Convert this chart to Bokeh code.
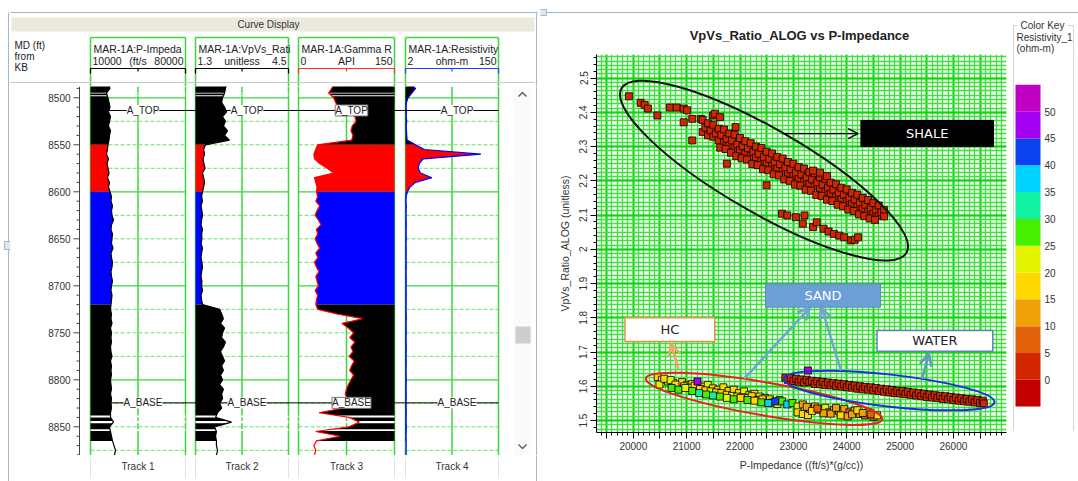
from bokeh.plotting import figure
from bokeh.models import (Range1d, SingleIntervalTicker, ColumnDataSource, Label, Arrow,
                          OpenHead, BoxAnnotation, LinearColorMapper, CustomJSTickFormatter)
from bokeh.layouts import row, column
from bokeh.embed import file_html
from bokeh.resources import INLINE
from bokeh.core.properties import value

FONT = "Liberation Sans"
BOX_FONT = "DejaVu Sans"
BORDER = "#a3b8cc"
GREEN = "#3ad83a"
LGREEN = "#66e466"

# ---------------------------------------------------------------- well log data
depth_ft = list(range(8485, 8881, 5))   # sampling depths (80 samples)

p_impedance = [
    23260, 24370, 21790, 22890, 23630, 24370, 23260, 24740, 24000, 23260,
    24740, 24000, 23630, 22890, 22530, 21790, 23260, 22160, 22890, 23630,
    22530, 24000, 23260, 24370, 25470, 25100, 26210, 25470, 25840, 26950,
    25470, 25100, 26210, 25840, 25470, 26580, 25100, 25470, 26210, 25840,
    25100, 25470, 26210, 25470, 25100, 25840, 25470, 25100, 24740, 25470,
    25100, 25840, 24740, 25470, 25100, 25470, 24740, 25100, 25840, 24740,
    25470, 25100, 25470, 24740, 25100, 25470, 24740, 25470, 25100, 25470,
    24740, 24740, 26950, 24000, 24740, 25470, 26210, 27310, 28420, 27680]

vpvs_ratio = [
    2.37, 2.33, 2.30, 2.23, 2.20, 2.30, 2.37, 2.23, 2.33, 2.26,
    2.40, 2.30, 2.47, 1.64, 1.58, 1.61, 1.56, 1.59, 1.63, 1.54,
    1.58, 1.61, 1.58, 1.54, 1.51, 1.54, 1.49, 1.52, 1.54, 1.51,
    1.49, 1.54, 1.51, 1.52, 1.49, 1.54, 1.51, 1.49, 1.52, 1.54,
    1.51, 1.49, 1.52, 1.51, 1.54, 1.49, 1.51, 1.54, 2.13, 2.20,
    2.26, 2.16, 2.30, 2.23, 2.20, 2.33, 2.26, 2.16, 2.23, 2.30,
    2.20, 2.26, 2.16, 2.23, 2.13, 2.26, 2.20, 2.23, 2.13, 2.20,
    2.06, 1.99, 2.54, 1.95, 2.02, 1.99, 2.02, 2.02, 2.06, 2.02]

gamma_ray = [
    55, 52, 47, 55, 58, 62, 75, 88, 90, 84,
    82, 85, 83, 30, 27, 24, 25, 33, 45, 55,
    25, 27, 29, 28, 30, 27, 33, 29, 26, 31,
    35, 28, 30, 26, 29, 33, 27, 30, 25, 28,
    32, 27, 29, 31, 26, 30, 28, 27, 30, 60,
    100, 68, 78, 86, 80, 88, 82, 85, 79, 87,
    83, 80, 86, 82, 78, 75, 73, 76, 74, 70,
    32, 79, 95, 79, 27, 65, 28, 24, 27, 25]

resistivity = [
    10, 18, 12, 6, 3.5, 3, 3.5, 3, 4, 3,
    3.5, 4, 4.5, 18, 32, 122, 30, 24, 22, 26,
    44, 18, 9, 5, 3, 2.8, 3.2, 3, 2.8, 3,
    3.3, 2.9, 3, 3.2, 2.8, 3, 3.1, 2.9, 3, 3.2,
    2.8, 3, 3.1, 3, 2.9, 3.2, 3, 3, 2.8, 3,
    3.2, 2.9, 3, 3.1, 2.8, 3, 3.2, 3, 2.9, 3.1,
    3, 2.8, 3, 3.2, 3, 2.9, 3.1, 3, 2.8, 3,
    3.1, 3, 2.9, 3.2, 3, 2.8, 3, 3.1, 2.9, 3]

zone_tops = [8485, 8550, 8600, 8720]
zone_bases = [8550, 8600, 8720, 8865]
zone_colors = ["#000000", "#ff0000", "#0000ff", "#000000"]
gap_depths = [8495.0, 8497.8, 8839.0, 8845.0, 8853.5]
gap_sizes = [0.9, 0.9, 2.0, 2.5, 2.0]

marker_names = ["A_TOP", "A_BASE"]
marker_depths = [8513.5, 8824.5]

track_titles = ["MAR-1A:P-Impeda", "MAR-1A:VpVs_Rati", "MAR-1A:Gamma R", "MAR-1A:Resistivity"]
track_units = ["(ft/s", "unitless", "API", "ohm-m"]
track_min = [10000, 1.3, 0, 2]
track_max = [80000, 4.5, 150, 150]
track_min_labels = ["10000", "1.3", "0", "2"]
track_max_labels = ["80000", "4.5", "150", "150"]
track_names = ["Track 1", "Track 2", "Track 3", "Track 4"]
track_curves = [p_impedance, vpvs_ratio, gamma_ray, resistivity]
track_curve_colors = ["#000000", "#000000", "#ff0000", "#0000ff"]
track_scale_colors = ["#000000", "#000000", "#ff3030", "#2040ff"]

depth_major = [8500, 8600, 8700, 8800]
depth_minor = [8525, 8550, 8575, 8625, 8650, 8675, 8725, 8750, 8775, 8825, 8850, 8875]
depth_tick_labels = [8500, 8550, 8600, 8650, 8700, 8750, 8800, 8850]
depth_minor_ticks = [d for d in range(8490, 8881, 10) if d % 50 != 0]

# ---------------------------------------------------------------- crossplot data
shale_xy = [
    (19917, 2.447), (20137, 2.428), (20212, 2.422), (20274, 2.411), (20451, 2.391),
    (20684, 2.414), (20814, 2.414), (20944, 2.411), (21008, 2.406), (20944, 2.371),
    (21105, 2.381), (21267, 2.381), (21494, 2.391), (21527, 2.396), (21624, 2.386),
    (21105, 2.318), (21916, 2.357), (21754, 2.250), (22498, 2.187),
    (21300, 2.378), (21300, 2.343), (21350, 2.356),
    (21400, 2.368), (21400, 2.333), (21450, 2.347),
    (21500, 2.364), (21500, 2.329), (21550, 2.338),
    (21600, 2.352), (21600, 2.318), (21650, 2.334),
    (21700, 2.350), (21700, 2.312), (21750, 2.322),
    (21800, 2.338), (21800, 2.303), (21850, 2.318),
    (21900, 2.335), (21900, 2.296), (21950, 2.306),
    (22000, 2.325), (22000, 2.290), (22050, 2.301),
    (22100, 2.316), (22100, 2.280), (22150, 2.295),
    (22200, 2.310), (22200, 2.272), (22250, 2.284),
    (22300, 2.300), (22300, 2.268), (22350, 2.279),
    (22400, 2.296), (22400, 2.258), (22450, 2.270),
    (22500, 2.285), (22500, 2.250), (22550, 2.264),
    (22600, 2.280), (22600, 2.244), (22650, 2.254),
    (22700, 2.270), (22700, 2.236), (22750, 2.249),
    (22800, 2.265), (22800, 2.228), (22850, 2.239),
    (22900, 2.255), (22900, 2.220), (22950, 2.233),
    (23000, 2.250), (23000, 2.214), (23050, 2.224),
    (23100, 2.240), (23100, 2.205), (23150, 2.219),
    (23200, 2.236), (23200, 2.198), (23250, 2.210),
    (23300, 2.225), (23300, 2.190), (23350, 2.204),
    (23400, 2.222), (23400, 2.184), (23450, 2.195),
    (23500, 2.210), (23500, 2.176), (23550, 2.189),
    (23600, 2.206), (23600, 2.168), (23650, 2.180),
    (23700, 2.195), (23700, 2.162), (23750, 2.174),
    (23800, 2.190), (23800, 2.154), (23850, 2.165),
    (23900, 2.180), (23900, 2.146), (23950, 2.159),
    (24000, 2.175), (24000, 2.140), (24050, 2.150),
    (24100, 2.165), (24100, 2.132), (24150, 2.145),
    (24200, 2.160), (24200, 2.125), (24250, 2.136),
    (24300, 2.150), (24300, 2.118), (24350, 2.130),
    (24400, 2.144), (24400, 2.110), (24450, 2.121),
    (24500, 2.135), (24500, 2.104), (24550, 2.115),
    (24600, 2.128), (24600, 2.098), (24650, 2.108),
    (24700, 2.115), (24700, 2.096),
    (21630, 2.297), (21730, 2.293), (21830, 2.282), (21930, 2.272), (22030, 2.266),
    (22130, 2.262), (22230, 2.249), (22330, 2.246), (22430, 2.234), (22530, 2.231),
    (22630, 2.219), (22730, 2.216), (22830, 2.204), (22930, 2.200), (23030, 2.189),
    (23130, 2.186), (23230, 2.174), (23330, 2.171), (23430, 2.159), (23530, 2.156),
    (23630, 2.145), (23730, 2.141), (23830, 2.130), (23930, 2.126), (24030, 2.116),
    (24130, 2.112), (24230, 2.102), (24330, 2.097), (24430, 2.090), (24530, 2.086),
    (23370, 2.230), (23500, 2.224), (23630, 2.214),
    (22788, 2.104), (22886, 2.099), (23048, 2.094), (23209, 2.099), (23177, 2.075),
    (23371, 2.065), (23437, 2.079), (23566, 2.060), (23660, 2.052), (23760, 2.045),
    (23860, 2.040), (23954, 2.035), (24083, 2.026), (24150, 2.028), (24213, 2.035)]
shale_resistivity = 2.0

water_xy = [
    (22850, 1.625), (22900, 1.618), (22950, 1.624), (23000, 1.615), (23050, 1.622),
    (23100, 1.613), (23150, 1.620), (23200, 1.611), (23250, 1.619), (23300, 1.612),
    (23350, 1.616), (23400, 1.607), (23450, 1.615), (23500, 1.606), (23550, 1.613),
    (23600, 1.604), (23650, 1.611), (23700, 1.603), (23750, 1.609), (23800, 1.601),
    (23850, 1.608), (23900, 1.599), (23950, 1.606), (24000, 1.597), (24050, 1.604),
    (24100, 1.596), (24150, 1.602), (24200, 1.593), (24250, 1.600), (24300, 1.591),
    (24350, 1.598), (24400, 1.590), (24450, 1.597), (24500, 1.588), (24550, 1.595),
    (24600, 1.586), (24650, 1.593), (24700, 1.584), (24750, 1.591), (24800, 1.582),
    (24850, 1.589), (24900, 1.580), (24950, 1.587), (25000, 1.579), (25050, 1.586),
    (25100, 1.577), (25150, 1.584), (25200, 1.575), (25250, 1.582), (25300, 1.573),
    (25350, 1.580), (25400, 1.571), (25450, 1.578), (25500, 1.569), (25550, 1.576),
    (25600, 1.567), (25650, 1.574), (25700, 1.566), (25750, 1.572), (25800, 1.563),
    (25850, 1.571), (25900, 1.562), (25950, 1.569), (26000, 1.560), (26050, 1.567),
    (26100, 1.558), (26150, 1.565), (26200, 1.556), (26250, 1.563), (26300, 1.555),
    (26350, 1.562), (26400, 1.553), (26450, 1.560), (26500, 1.551), (26550, 1.558),
    (26570, 1.550)]
water_resistivity = 2.0
water_outlier = (23274, 1.646, 52)

hc_points = [
    (20458, 1.627, 17), (20536, 1.619, 17), (20490, 1.605, 22), (20652, 1.614, 17),
    (20749, 1.610, 17), (20834, 1.602, 22), (20911, 1.612, 17), (21008, 1.604, 17),
    (21104, 1.607, 17), (21300, 1.599, 17), (21397, 1.604, 22),
    (21494, 1.594, 17), (21591, 1.590, 17), (21688, 1.597, 17), (21785, 1.586, 17),
    (21882, 1.590, 17), (21980, 1.580, 17), (22077, 1.585, 22), (22174, 1.575, 17),
    (22271, 1.578, 17), (22368, 1.570, 17), (22465, 1.566, 22), (22562, 1.562, 17),
    (20580, 1.622, 17), (20700, 1.618, 22), (20790, 1.605, 17), (20950, 1.600, 17),
    (21050, 1.596, 22), (21150, 1.602, 17), (21250, 1.592, 17), (21350, 1.588, 17),
    (21450, 1.585, 22), (21550, 1.582, 17), (21650, 1.580, 17), (21750, 1.575, 17),
    (21850, 1.572, 22), (21950, 1.570, 17), (22050, 1.568, 17), (22150, 1.566, 22),
    (22220, 1.571, 17), (22330, 1.560, 17), (22420, 1.562, 17), (22600, 1.552, 27),
    (22700, 1.548, 17), (22740, 1.560, 22),
    (20717, 1.595, 27), (20847, 1.590, 27), (20976, 1.595, 22), (21104, 1.586, 27),
    (21235, 1.580, 32), (21365, 1.576, 27), (21494, 1.573, 32), (21623, 1.570, 27),
    (21753, 1.566, 22), (21882, 1.562, 27), (22012, 1.566, 17), (22141, 1.560, 27),
    (22271, 1.558, 17), (22400, 1.553, 27), (22530, 1.551, 37), (22789, 1.556, 27),
    (22886, 1.547, 37), (22983, 1.551, 27), (23080, 1.541, 22),
    (23177, 1.547, 12), (23080, 1.524, 17), (23177, 1.519, 17), (23274, 1.516, 17),
    (23307, 1.534, 7), (23404, 1.541, 12), (23501, 1.531, 12), (23598, 1.537, 22),
    (23663, 1.524, 7), (23760, 1.531, 12), (23857, 1.527, 12), (23954, 1.534, 12),
    (24051, 1.524, 7), (24148, 1.529, 12), (24245, 1.519, 12), (24343, 1.515, 7),
    (24407, 1.524, 17), (24504, 1.510, 7), (24569, 1.515, 17), (23889, 1.515, 17),
    (24019, 1.512, 12), (23566, 1.521, 12), (23250, 1.540, 12), (23350, 1.528, 17),
    (23450, 1.535, 7), (23700, 1.520, 12), (23800, 1.537, 12), (24100, 1.518, 12),
    (24200, 1.530, 17), (24300, 1.522, 12), (24450, 1.518, 7),
    (21203, 1.614, 47), (22659, 1.556, 42)]

res_bins_lo = [-5, 0, 5, 10, 15, 20, 25, 30, 35, 40, 45, 50]
res_bins_hi = [0, 5, 10, 15, 20, 25, 30, 35, 40, 45, 50, 55]
res_palette = ["#c20000", "#d22600", "#e2620c", "#f0a008", "#ffd800", "#e2f400",
               "#46ee00", "#12f0a2", "#00d2ff", "#0a42f0", "#a400f2", "#c000c4"]
res_tick_values = [0, 5, 10, 15, 20, 25, 30, 35, 40, 45, 50]

# ---------------------------------------------------------------- helpers
TRACK_PX = [(90, 185), (195, 288), (298, 394), (405, 498)]


def chrome(w, h, x0, y0):
    p = figure(width=w, height=h, x_range=Range1d(x0, x0 + w), y_range=Range1d(y0 + h, y0),
               x_axis_type=None, y_axis_type=None, output_backend="svg", toolbar_location=None,
               min_border_left=0, min_border_right=0, min_border_top=0, min_border_bottom=0)
    p.outline_line_color = None
    p.background_fill_color = "white"
    p.border_fill_color = "white"
    return p


def put_text(p, xs, ys, texts, size="10px", color="#222222", align="left",
             baseline="middle", bold=False, font=FONT, **kw):
    p.text(x=xs, y=ys, text=texts, text_font=value(font), text_font_size=size,
           text_color=color, text_align=align, text_baseline=baseline,
           text_font_style="bold" if bold else "normal", **kw)


# ---------------------------------------------------------------- left strip
strip = chrome(10, 481, 0, 0)
strip.segment(x0=[8], y0=[12], x1=[8], y1=[481], line_color=BORDER, line_width=1)
strip.quad(left=[4], right=[10], top=[241], bottom=[249], fill_color="#dde8f3", line_color=BORDER)

# ---------------------------------------------------------------- header
head = chrome(530, 86, 10, 0)
head.segment(x0=[10], y0=[12], x1=[537], y1=[12], line_color=BORDER, line_width=1)
head.quad(left=[11], right=[534], top=[17], bottom=[31], fill_color="#ebe8dd", line_color=None)
put_text(head, [268], [24], ["Curve Display"], "10px", "#333333", align="center")
put_text(head, [14, 14, 14], [45, 56, 67], ["MD (ft)", "from", "KB"], "10px", "#222222")
for k in range(4):
    L, R = TRACK_PX[k]
    mid = (L + R) / 2
    head.segment(x0=[L, L, R], y0=[37, 37, 37], x1=[R, L, R], y1=[37, 86, 86],
                 line_color=GREEN, line_width=1.5)
    put_text(head, [L + 3], [48], [track_titles[k]], "10.5px")
    put_text(head, [L + 2], [60], [track_min_labels[k]], "10.5px")
    put_text(head, [mid], [60], [track_units[k]], "10.5px", align="center")
    put_text(head, [R - 2], [60], [track_max_labels[k]], "10.5px", align="right")
    c = track_scale_colors[k]
    head.segment(x0=[L], y0=[68], x1=[R], y1=[68], line_color=c, line_width=1.2)
    head.segment(x0=[L, mid, R], y0=[68, 68, 68], x1=[L, mid, R], y1=[73, 71, 73],
                 line_color=c, line_width=1.2)
head.segment(x0=[10], y0=[82], x1=[534], y1=[82], line_color="#c8c8c8", line_width=1)
head.segment(x0=[536], y0=[12], x1=[536], y1=[86], line_color=BORDER, line_width=1)

# ---------------------------------------------------------------- main log area
D_TOP, D_BOT = 8488.0, 8880.5
FX0, FX1 = 10, 540
main = figure(width=530, height=369, x_range=Range1d(FX0, FX1), y_range=Range1d(D_BOT, D_TOP),
              x_axis_type=None, y_axis_type=None, output_backend="svg", toolbar_location=None,
              min_border_left=0, min_border_right=0, min_border_top=0, min_border_bottom=0)
main.outline_line_color = None
main.background_fill_color = "white"
main.border_fill_color = "white"

xr = {}
for k in range(4):
    L, R = TRACK_PX[k]
    lo, hi = track_min[k], track_max[k]
    s = (hi - lo) / (R - L)
    xr["t%d" % k] = Range1d(lo - (L - FX0) * s, hi + (FX1 - R) * s)
main.extra_x_ranges = xr
main.extra_y_ranges = {"py": Range1d(455, 86)}

# depth axis (drawn through the depth scale)
main.segment(x0=[79], y0=[D_TOP], x1=[79], y1=[D_BOT], line_color="#444444", line_width=1)
main.segment(x0=[73] * len(depth_tick_labels), y0=depth_tick_labels,
             x1=[79] * len(depth_tick_labels), y1=depth_tick_labels,
             line_color="#444444", line_width=1)
main.segment(x0=[76] * len(depth_minor_ticks), y0=depth_minor_ticks,
             x1=[79] * len(depth_minor_ticks), y1=depth_minor_ticks,
             line_color="#444444", line_width=1)
put_text(main, [70] * len(depth_tick_labels), depth_tick_labels,
         [str(d) for d in depth_tick_labels], "10px", "#333333", align="right")

for k in range(4):
    rn = "t%d" % k
    lo, hi = track_min[k], track_max[k]
    mid = (lo + hi) / 2
    main.segment(x0=[lo] * len(depth_major), y0=depth_major, x1=[hi] * len(depth_major),
                 y1=depth_major, x_range_name=rn, line_color=GREEN, line_width=1.3)
    main.segment(x0=[lo] * len(depth_minor), y0=depth_minor, x1=[hi] * len(depth_minor),
                 y1=depth_minor, x_range_name=rn, line_color=LGREEN, line_width=1,
                 line_dash="4 2")
    main.segment(x0=[lo, mid, hi], y0=[D_TOP] * 3, x1=[lo, mid, hi], y1=[D_BOT] * 3,
                 x_range_name=rn, line_color=GREEN, line_width=1.5)

for k in range(4):
    rn = "t%d" % k
    lo, hi = track_min[k], track_max[k]
    curve = track_curves[k]
    for zt, zb, zc in zip(zone_tops, zone_bases, zone_colors):
        idx = [i for i, d in enumerate(depth_ft) if zt <= d <= zb]
        ys = [depth_ft[i] for i in idx]
        xs = [curve[i] for i in idx]
        if k == 2:
            main.harea(x1=xs, x2=[hi] * len(xs), y=ys, fill_color=zc, x_range_name=rn)
        else:
            main.harea(x1=[lo] * len(xs), x2=xs, y=ys, fill_color=zc, x_range_name=rn)
    if k < 3:
        main.hbar(y=gap_depths, height=gap_sizes, left=lo, right=hi, fill_color="white",
                  line_color=None, x_range_name=rn)
    main.line(x=curve, y=depth_ft, x_range_name=rn, line_color=track_curve_colors[k],
              line_width=1.2)

main.segment(x0=[90] * len(marker_depths), y0=marker_depths, x1=[498] * len(marker_depths),
             y1=marker_depths, line_color="black", line_width=1)
for name, d in zip(marker_names, marker_depths):
    for k in range(4):
        L, R = TRACK_PX[k]
        main.add_layout(Label(x=(L + R) / 2 + 5, y=d, text=name, text_align="center",
                              text_baseline="middle", text_font=FONT, text_font_size="10px",
                              text_color="#222222", background_fill_color="white",
                              border_line_color="#777777" if k == 2 else None))

main.quad(left=[513], right=[531], top=[86], bottom=[455], fill_color="#fafafa",
          line_color=None, y_range_name="py")
main.quad(left=[515], right=[530], top=[326], bottom=[343], fill_color="#cdcdcd",
          line_color=None, y_range_name="py")
main.multi_line(xs=[[518, 522, 526], [518, 522, 526]], ys=[[96, 92, 96], [444, 448, 444]],
                line_color="#555555", line_width=1.3, y_range_name="py")
main.segment(x0=[536], y0=[86], x1=[536], y1=[455], line_color=BORDER, y_range_name="py")

# ---------------------------------------------------------------- footer
foot = chrome(530, 26, 10, 455)
Ls = [t[0] for t in TRACK_PX]
Rs = [t[1] for t in TRACK_PX]
foot.segment(x0=Ls + Rs, y0=[457] * 8, x1=Ls + Rs, y1=[478] * 8, line_color="#e2e2e2")
put_text(foot, [(a + b) / 2 for a, b in TRACK_PX], [466] * 4, track_names, "10px",
         "#333333", align="center")
foot.segment(x0=[536], y0=[455], x1=[536], y1=[481], line_color=BORDER)

# ---------------------------------------------------------------- right top strip
rtop = chrome(538, 54, 540, 0)
rtop.segment(x0=[540], y0=[12], x1=[1078], y1=[12], line_color=BORDER)
rtop.quad(left=[538], right=[546], top=[9], bottom=[15], fill_color="#dde8f3", line_color=BORDER)
put_text(rtop, [799], [35], ["VpVs_Ratio_ALOG vs P-Impedance"], "13px", "#222222",
         align="center", bold=True)
put_text(rtop, [1020, 1016, 1016], [25, 37, 48], ["Color Key", "Resistivity_1", "(ohm-m)"],
         "10px", "#333333")
rtop.segment(x0=[1013, 1073, 1013, 1067], y0=[25, 25, 25, 25], x1=[1013, 1073, 1017, 1073],
             y1=[54, 54, 25, 25], line_color="#d6d6d6")

# ---------------------------------------------------------------- crossplot
cross = figure(width=470, height=427, x_range=Range1d(19310, 26995),
               y_range=Range1d(1.465, 2.569), output_backend="svg", toolbar_location=None,
               min_border_left=56, min_border_right=4, min_border_top=0, min_border_bottom=49,
               x_axis_label="P-Impedance ((ft/s)*(g/cc))",
               y_axis_label="VpVs_Ratio_ALOG (unitless)")
cross.outline_line_color = None
cross.background_fill_color = "#f3fdf1"
cross.border_fill_color = "white"
cross.xgrid.ticker = SingleIntervalTicker(interval=500, num_minor_ticks=5)
cross.ygrid.ticker = SingleIntervalTicker(interval=0.1, num_minor_ticks=8)
cross.grid.grid_line_color = "#0cd60c"
cross.grid.grid_line_width = 2
cross.grid.grid_line_alpha = 1
cross.grid.minor_grid_line_color = "#44dd44"
cross.grid.minor_grid_line_width = 1.3
cross.xaxis.ticker = SingleIntervalTicker(interval=500, num_minor_ticks=5)
cross.xaxis.formatter = CustomJSTickFormatter(
    code="var v = Math.round(tick); return (v % 1000 === 0) ? v.toString() : '';")
cross.yaxis.ticker = SingleIntervalTicker(interval=0.1, num_minor_ticks=5)
cross.yaxis.formatter = CustomJSTickFormatter(
    code="var v = Math.round(tick * 10) / 10; return (Math.abs(v - Math.round(v)) < 1e-9) ? v.toFixed(0) : v.toFixed(1);")
cross.yaxis.major_label_orientation = "vertical"
for ax in (cross.xaxis[0], cross.yaxis[0]):
    ax.axis_line_color = "black"
    ax.major_tick_line_color = "black"
    ax.minor_tick_line_color = "black"
    ax.major_tick_in = 0
    ax.major_tick_out = 6
    ax.minor_tick_in = 0
    ax.minor_tick_out = 3
    ax.major_label_text_font = FONT
    ax.major_label_text_font_size = "10px"
    ax.major_label_text_color = "#333333"
    ax.axis_label_text_font = FONT
    ax.axis_label_text_font_size = "10.5px"
    ax.axis_label_text_font_style = "normal"
    ax.axis_label_text_color = "#333333"
    ax.major_label_standoff = 3
    ax.axis_label_standoff = 6

mapper = LinearColorMapper(palette=res_palette, low=-5, high=55)
fill_spec = {"field": "res", "transform": mapper}
src_shale = ColumnDataSource(dict(x=[p[0] for p in shale_xy], y=[p[1] for p in shale_xy],
                                  res=[shale_resistivity] * len(shale_xy)))
src_water = ColumnDataSource(dict(x=[p[0] for p in water_xy] + [water_outlier[0]],
                                  y=[p[1] for p in water_xy] + [water_outlier[1]],
                                  res=[water_resistivity] * len(water_xy) + [water_outlier[2]]))
src_hc = ColumnDataSource(dict(x=[p[0] for p in hc_points], y=[p[1] for p in hc_points],
                               res=[p[2] for p in hc_points]))
for src in (src_shale, src_water, src_hc):
    cross.scatter(x="x", y="y", source=src, marker="square", size=7, fill_color=fill_spec,
                  line_color="black", line_width=0.8)

cross.ellipse(x=[22450], y=[2.230], width=[329], height=[84], angle=[-0.5236],
              width_units="screen", height_units="screen", fill_color=None,
              line_color="#111111", line_width=2)
cross.ellipse(x=[22450], y=[1.5634], width=[240], height=[33], angle=[-0.171],
              width_units="screen", height_units="screen", fill_color=None,
              line_color="#e82020", line_width=2)
cross.ellipse(x=[24796], y=[1.5876], width=[212], height=[32], angle=[-0.112],
              width_units="screen", height_units="screen", fill_color=None,
              line_color="#1a2ee0", line_width=2)

cross.add_layout(Arrow(end=OpenHead(size=10, line_color="black", line_width=1.3),
                       x_start=22789, y_start=2.3377, x_end=24214, y_end=2.3377,
                       line_color="black", line_width=1.3))
cross.add_layout(Arrow(end=OpenHead(size=12, line_color="#72a4d2", line_width=2.5),
                       x_start=22077, y_start=1.6218, x_end=23307, y_end=1.8292,
                       line_color="#72a4d2", line_width=2.5))
cross.add_layout(Arrow(end=OpenHead(size=12, line_color="#72a4d2", line_width=2.5),
                       x_start=23890, y_start=1.6461, x_end=23533, y_end=1.8292,
                       line_color="#72a4d2", line_width=2.5))
cross.add_layout(Arrow(end=OpenHead(size=12, line_color="#f2a467", line_width=2.5),
                       x_start=20846, y_start=1.6510, x_end=20705, y_end=1.7241,
                       line_color="#f2a467", line_width=2.5))
cross.add_layout(Arrow(end=OpenHead(size=12, line_color="#6296c8", line_width=2.5),
                       x_start=25411, y_start=1.6218, x_end=25540, y_end=1.6949,
                       line_color="#6296c8", line_width=2.5))

cross.add_layout(BoxAnnotation(left=24266, right=26751, top=2.3764, bottom=2.3004,
                               fill_color="black", fill_alpha=1, line_color="black",
                               line_alpha=1))
cross.add_layout(BoxAnnotation(left=22478, right=24634, top=1.8994, bottom=1.8310,
                               fill_color="#6b9fd5", fill_alpha=1, line_color="#5a8cc0",
                               line_alpha=1))
cross.add_layout(BoxAnnotation(left=19844, right=21527, top=1.8000, bottom=1.7308,
                               fill_color="white", fill_alpha=1, line_color="#e8904a",
                               line_alpha=1, line_width=1.5))
cross.add_layout(BoxAnnotation(left=24568, right=26738, top=1.7629, bottom=1.7025,
                               fill_color="white", fill_alpha=1, line_color="#5b86b5",
                               line_alpha=1, line_width=1.5))
for tx, ty, t, c in [(25508, 2.3384, "SHALE", "white"), (23556, 1.8652, "SAND", "white"),
                     (20685, 1.7654, "HC", "#222222"), (25653, 1.7327, "WATER", "#222222")]:
    cross.add_layout(Label(x=tx, y=ty, text=t, text_align="center", text_baseline="middle",
                           text_color=c, text_font=BOX_FONT, text_font_size="13px"))

# ---------------------------------------------------------------- colour key
cbar = chrome(68, 427, 1010, 54)
cbar.extra_y_ranges = {"res": Range1d(-9.837, 60.663)}
cbar.segment(x0=[1013, 1073], y0=[54, 54], x1=[1013, 1073], y1=[479, 479],
             line_color="#d6d6d6")
cbar.quad(left=[1015] * len(res_bins_lo), right=[1040] * len(res_bins_lo),
          bottom=res_bins_lo, top=res_bins_hi, fill_color=res_palette, line_color=None,
          y_range_name="res")
put_text(cbar, [1044] * len(res_tick_values), res_tick_values,
         [str(v) for v in res_tick_values], "10px", "#333333", y_range_name="res")

# ---------------------------------------------------------------- layout
left = row(strip, column(head, main, foot))
right = column(rtop, row(cross, cbar))
layout = row(left, right)

open("out.html", "w").write(file_html(layout, INLINE))
